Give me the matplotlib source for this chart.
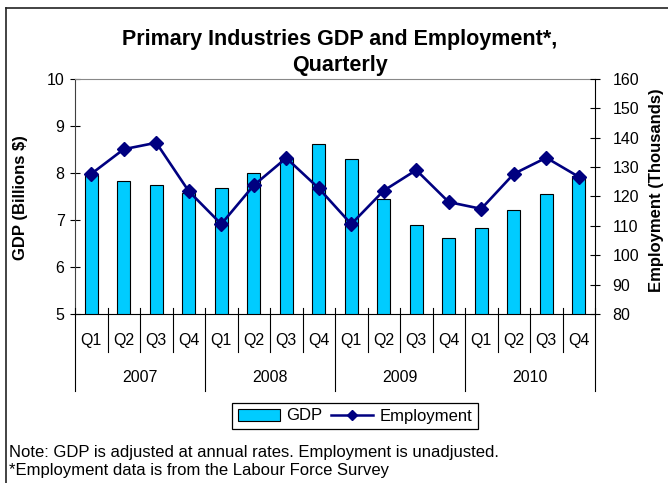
import matplotlib.pyplot as plt
import matplotlib.transforms as mtransforms
from matplotlib.lines import Line2D
from matplotlib.patches import Patch

plt.rcParams['font.family'] = ['Liberation Sans', 'DejaVu Sans']

years = ['2007', '2008', '2009', '2010']
quarters = ['Q1', 'Q2', 'Q3', 'Q4']
gdp = [7.95, 7.82, 7.74, 7.58, 7.68, 8.00, 8.31, 8.62,
       8.30, 7.44, 6.89, 6.62, 6.82, 7.21, 7.55, 7.94]
employment = [127.7, 136.1, 138.3, 121.8, 110.6, 123.8, 133.1, 122.8,
              110.6, 122.0, 129.0, 118.1, 115.8, 127.7, 133.2, 126.7]

W, H = 668, 483


def fy(py):
    # pixel row (from top) -> figure fraction
    return 1 - py / H


fig = plt.figure(figsize=(W / 100, H / 100), dpi=100)
ax = fig.add_axes([75 / W, fy(314), 520 / W, 235 / H])
x = list(range(len(gdp)))

ax.bar(x, gdp, width=0.41, color='#00CCFF', edgecolor='black', linewidth=0.8)
ax.set_xlim(-0.5, len(gdp) - 0.5)
ax.set_ylim(5, 10)
ax.set_yticks(range(5, 11))
ax.set_xticks([])

ax2 = ax.twinx()
ax2.plot(x, employment, color='#000080', marker='D', markersize=6.8, linewidth=1.9)
ax2.set_ylim(80, 160)
ax2.set_yticks(range(80, 161, 10))

for a in (ax, ax2):
    for s in a.spines.values():
        s.set_visible(False)
ax.spines['left'].set_visible(True)
ax.spines['left'].set_color('#404040')
ax.spines['bottom'].set_visible(True)
ax.spines['bottom'].set_color('black')
ax.spines['top'].set_visible(True)
ax.spines['top'].set_color('#888888')
ax2.spines['right'].set_visible(True)
ax2.spines['right'].set_color('black')

ax.tick_params(axis='y', direction='inout', length=7, width=0.8, labelsize=11.5, pad=4)
ax2.tick_params(axis='y', direction='inout', length=7, width=0.8, labelsize=11.5, pad=9)

# two-level category axis: quarters, then years
trans = mtransforms.blended_transform_factory(ax.transData, fig.transFigure)
for k in range(len(gdp) + 1):
    bottom = 391 if k % 4 == 0 else 352
    fig.add_artist(Line2D([k - 0.5, k - 0.5], [fy(308), fy(bottom)],
                          transform=trans, color='black', linewidth=0.8))
for i in x:
    fig.text(i, fy(340), quarters[i % 4], transform=trans,
             ha='center', va='center', fontsize=11.5)
for j, yr in enumerate(years):
    fig.text(4 * j + 1.5, fy(378), yr, transform=trans,
             ha='center', va='center', fontsize=11.5)

fig.text(21 / W, fy(198), 'GDP (Billions $)', rotation=90, fontweight='bold',
         ha='center', va='center', fontsize=12)
fig.text(657 / W, fy(190), 'Employment (Thousands)', rotation=90, fontweight='bold',
         ha='center', va='center', fontsize=12)

fig.text(340 / W, fy(39), 'Primary Industries GDP and Employment*,',
         fontweight='bold', ha='center', va='center', fontsize=15.5)
fig.text(340 / W, fy(65), 'Quarterly',
         fontweight='bold', ha='center', va='center', fontsize=15.5)

handles = [Patch(facecolor='#00CCFF', edgecolor='black', linewidth=0.8),
           Line2D([], [], color='#000080', marker='D', markersize=5, linewidth=1.8)]
leg = fig.legend(handles, ['GDP', 'Employment'], loc='center',
                 bbox_to_anchor=(355 / W, fy(416)), ncol=2, frameon=True,
                 fancybox=False, edgecolor='black', framealpha=1, fontsize=12,
                 handlelength=2.5, handletextpad=0.4, columnspacing=0.5,
                 borderpad=0.35)
leg.get_frame().set_linewidth(0.9)

fig.text(9 / W, fy(452), 'Note: GDP is adjusted at annual rates. Employment is unadjusted.',
         ha='left', va='center', fontsize=12)
fig.text(9 / W, fy(471), '*Employment data is from the Labour Force Survey',
         ha='left', va='center', fontsize=12)

# chart area border
fig.add_artist(Line2D([6 / W, 1], [fy(8), fy(8)], transform=fig.transFigure,
                      color='#222222', linewidth=1.2))
fig.add_artist(Line2D([6 / W, 6 / W], [fy(8), 0], transform=fig.transFigure,
                      color='#222222', linewidth=1.2))

fig.savefig('out.png', dpi=100)
